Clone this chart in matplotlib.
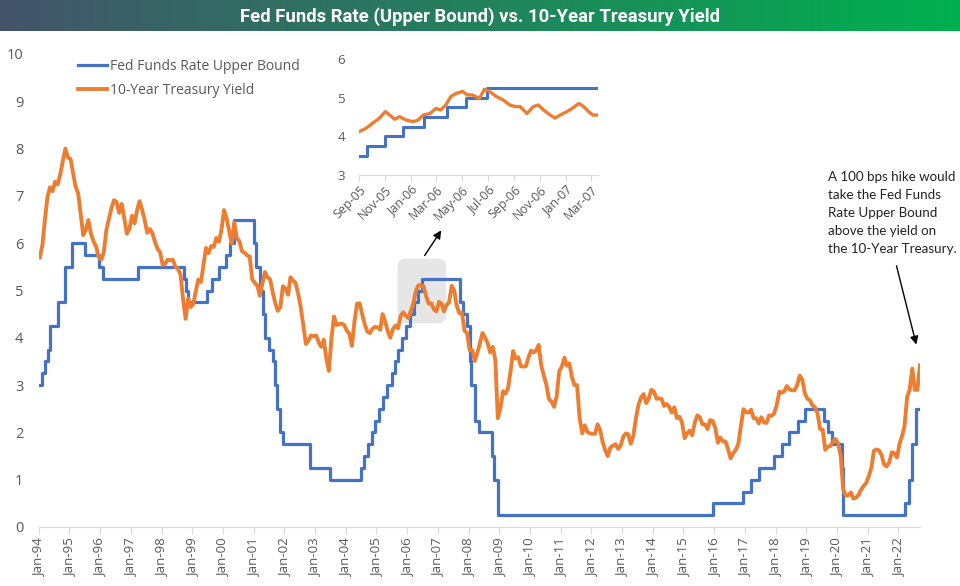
import numpy as np
import pandas as pd
import matplotlib
matplotlib.use('Agg')
import matplotlib.pyplot as plt
import matplotlib.dates as mdates
from matplotlib.patches import FancyBboxPatch

# Fed funds target rate (upper bound) change dates and levels
ff_dates = ['1994-01-01', '1994-02-04', '1994-03-22', '1994-04-18', '1994-05-17', '1994-08-16',
            '1994-11-15', '1995-02-01', '1995-07-06', '1995-12-19', '1996-01-31', '1997-03-25',
            '1998-09-29', '1998-10-15', '1998-11-17', '1999-06-30', '1999-08-24', '1999-11-16',
            '2000-02-02', '2000-03-21', '2000-05-16', '2001-01-03', '2001-01-31', '2001-03-20',
            '2001-04-18', '2001-05-15', '2001-06-27', '2001-08-21', '2001-09-17', '2001-10-02',
            '2001-11-06', '2001-12-11', '2002-11-06', '2003-06-25', '2004-06-30', '2004-08-10',
            '2004-09-21', '2004-11-10', '2004-12-14', '2005-02-02', '2005-03-22', '2005-05-03',
            '2005-06-30', '2005-08-09', '2005-09-20', '2005-11-01', '2005-12-13', '2006-01-31',
            '2006-03-28', '2006-05-10', '2006-06-29', '2007-09-18', '2007-10-31', '2007-12-11',
            '2008-01-22', '2008-01-30', '2008-03-18', '2008-04-30', '2008-10-08', '2008-10-29',
            '2008-12-16', '2015-12-16', '2016-12-14', '2017-03-15', '2017-06-14', '2017-12-13',
            '2018-03-21', '2018-06-13', '2018-09-26', '2018-12-19', '2019-07-31', '2019-09-18',
            '2019-10-30', '2020-03-03', '2020-03-15', '2022-03-16', '2022-05-04', '2022-06-15',
            '2022-07-27', '2022-09-15']
ff_rate = [3.00, 3.25, 3.50, 3.75, 4.25, 4.75,
           5.50, 6.00, 5.75, 5.50, 5.25, 5.50,
           5.25, 5.00, 4.75, 5.00, 5.25, 5.50,
           5.75, 6.00, 6.50, 6.00, 5.50, 5.00,
           4.50, 4.00, 3.75, 3.50, 3.00, 2.50,
           2.00, 1.75, 1.25, 1.00, 1.25, 1.50,
           1.75, 2.00, 2.25, 2.50, 2.75, 3.00,
           3.25, 3.50, 3.75, 4.00, 4.25, 4.50,
           4.75, 5.00, 5.25, 4.75, 4.50, 4.25,
           3.50, 3.00, 2.25, 2.00, 1.50, 1.00,
           0.25, 0.50, 0.75, 1.00, 1.25, 1.50,
           1.75, 2.00, 2.25, 2.50, 2.25, 2.00,
           1.75, 1.25, 0.25, 0.50, 1.00, 1.75,
           2.50, 2.50]

# 10-year treasury yield, monthly, Jan-1994 .. Sep-2022
ty_1994_2022 = [
    5.70, 5.97, 6.48, 6.97, 7.18, 7.10, 7.30, 7.24, 7.46, 7.74, 8.00, 7.81,
    7.78, 7.47, 7.20, 7.06, 6.63, 6.17, 6.28, 6.49, 6.20, 6.04, 5.93, 5.71,
    5.65, 5.81, 6.27, 6.51, 6.74, 6.91, 6.87, 6.64, 6.83, 6.53, 6.20, 6.30,
    6.58, 6.42, 6.69, 6.89, 6.71, 6.49, 6.22, 6.30, 6.21, 6.03, 5.88, 5.81,
    5.54, 5.57, 5.65, 5.64, 5.65, 5.50, 5.46, 5.34, 4.81, 4.40, 4.83, 4.65,
    4.72, 5.00, 5.23, 5.18, 5.54, 5.90, 5.79, 5.94, 5.92, 6.11, 6.03, 6.28,
    6.70, 6.52, 6.26, 5.99, 6.44, 6.10, 6.05, 5.83, 5.80, 5.74, 5.72, 5.24,
    5.16, 5.10, 4.89, 5.14, 5.39, 5.28, 5.24, 4.97, 4.73, 4.57, 4.65, 5.09,
    5.04, 4.91, 5.28, 5.21, 5.16, 4.93, 4.65, 4.26, 3.87, 3.94, 4.05, 4.03,
    4.05, 3.90, 3.81, 3.96, 3.57, 3.30, 3.98, 4.45, 4.27, 4.29, 4.30, 4.27,
    4.15, 4.08, 3.83, 4.35, 4.72, 4.73, 4.50, 4.28, 4.13, 4.10, 4.19, 4.23,
    4.22, 4.17, 4.50, 4.34, 4.14, 4.00, 4.18, 4.26, 4.20, 4.46, 4.54, 4.47,
    4.42, 4.57, 4.72, 4.99, 5.11, 5.11, 5.09, 4.88, 4.72, 4.73, 4.60, 4.56,
    4.76, 4.72, 4.56, 4.69, 4.75, 5.10, 5.00, 4.67, 4.52, 4.53, 4.15, 4.10,
    3.74, 3.74, 3.51, 3.68, 3.88, 4.10, 4.01, 3.89, 3.69, 3.81, 3.53, 2.30,
    2.52, 2.87, 2.82, 2.93, 3.29, 3.72, 3.56, 3.59, 3.40, 3.39, 3.40, 3.59,
    3.73, 3.69, 3.73, 3.85, 3.42, 3.20, 3.01, 2.70, 2.65, 2.54, 2.76, 3.29,
    3.39, 3.58, 3.41, 3.46, 3.17, 3.00, 3.00, 2.30, 1.98, 2.15, 2.01, 1.98,
    1.97, 1.97, 2.17, 2.05, 1.80, 1.62, 1.50, 1.68, 1.72, 1.75, 1.65, 1.72,
    1.91, 1.98, 1.96, 1.76, 1.93, 2.30, 2.58, 2.74, 2.81, 2.62, 2.72, 2.90,
    2.86, 2.71, 2.72, 2.71, 2.56, 2.60, 2.54, 2.42, 2.53, 2.30, 2.33, 2.21,
    1.88, 1.98, 2.04, 1.94, 2.20, 2.36, 2.32, 2.17, 2.17, 2.07, 2.26, 2.24,
    2.09, 1.78, 1.89, 1.81, 1.81, 1.64, 1.45, 1.56, 1.63, 1.76, 2.14, 2.49,
    2.43, 2.42, 2.48, 2.30, 2.30, 2.19, 2.32, 2.21, 2.20, 2.36, 2.35, 2.40,
    2.58, 2.86, 2.84, 2.87, 2.98, 2.91, 2.89, 2.89, 3.00, 3.20, 3.12, 2.83,
    2.71, 2.68, 2.57, 2.53, 2.40, 2.07, 2.06, 1.63, 1.70, 1.71, 1.81, 1.86,
    1.76, 1.50, 0.80, 0.66, 0.67, 0.73, 0.60, 0.62, 0.68, 0.79, 0.87, 0.93,
    1.08, 1.26, 1.61, 1.64, 1.62, 1.52, 1.32, 1.28, 1.37, 1.58, 1.56, 1.47,
    1.76, 1.93, 2.13, 2.75, 2.90, 3.35, 2.90, 2.90, 3.42]

# inset detail: Sep-05 .. Mar-07
inset_dates = ['2005-09-01', '2005-09-18', '2005-10-03', '2005-10-19', '2005-11-02', '2005-11-12',
               '2005-11-24', '2005-12-05', '2005-12-21', '2006-01-06', '2006-01-18', '2006-01-30',
               '2006-02-15', '2006-03-01', '2006-03-12', '2006-03-24', '2006-04-05', '2006-04-17',
               '2006-05-03', '2006-05-14', '2006-05-26', '2006-06-11', '2006-06-23', '2006-07-05',
               '2006-07-21', '2006-08-06', '2006-08-22', '2006-09-03', '2006-09-15', '2006-10-01',
               '2006-10-16', '2006-10-28', '2006-11-09', '2006-11-25', '2006-12-06', '2006-12-18',
               '2007-01-03', '2007-01-15', '2007-01-31', '2007-02-11', '2007-02-23', '2007-03-05',
               '2007-03-17']
inset_yield = [4.12, 4.21, 4.34, 4.47, 4.64, 4.55,
               4.44, 4.51, 4.42, 4.38, 4.42, 4.55,
               4.59, 4.72, 4.68, 4.81, 5.03, 5.11,
               5.16, 5.07, 5.07, 4.98, 5.22, 5.16,
               5.03, 4.94, 4.81, 4.77, 4.77, 4.59,
               4.77, 4.81, 4.68, 4.55, 4.47, 4.55,
               4.64, 4.72, 4.85, 4.77, 4.64, 4.55,
               4.55]

BLUE = '#4472C4'
ORANGE = '#ED7D31'
GREY = '#595959'
AXIS = '#D9D9D9'

plt.rcParams['font.family'] = ['Open Sans', 'DejaVu Sans']

ff_x = pd.to_datetime(ff_dates)
ty_x = pd.date_range('1994-01-01', periods=len(ty_1994_2022), freq='MS') + pd.Timedelta(days=14)
in_x = pd.to_datetime(inset_dates)

fig = plt.figure(figsize=(9.6, 5.86), dpi=100)

# title bar with gradient
tax = fig.add_axes([0, 1 - 31 / 586, 1, 31 / 586])
grad = np.linspace(0, 1, 256).reshape(1, -1)
cmap = matplotlib.colors.LinearSegmentedColormap.from_list('bar', ['#44546A', '#00B050'])
tax.imshow(grad, aspect='auto', cmap=cmap, extent=[0, 1, 0, 1])
tax.axis('off')
tax.text(0.5, 0.47, 'Fed Funds Rate (Upper Bound) vs. 10-Year Treasury Yield', color='white',
         fontsize=13.3, fontweight='bold', ha='center', va='center',
         family=['Roboto', 'DejaVu Sans'])

# main chart
ax = fig.add_axes([38.7 / 960, 1 - 527 / 586, (920 - 38.7) / 960, (527 - 54) / 586])
ax.plot(ff_x, ff_rate, drawstyle='steps-post', color=BLUE, lw=2.3, label='Fed Funds Rate Upper Bound', zorder=3)
ax.plot(ty_x, ty_1994_2022, color=ORANGE, lw=2.8, label='10-Year Treasury Yield', zorder=4)

x0 = pd.Timestamp('1994-01-01')
x1 = pd.Timestamp('2022-09-15')
ax.set_xlim(x0, x1)
ax.set_ylim(0, 10)
ax.set_yticks(range(0, 11))
ax.xaxis.set_major_locator(mdates.YearLocator(1, month=1, day=1))
ax.xaxis.set_major_formatter(mdates.DateFormatter('%b-%y'))
for s in ['top', 'right', 'left']:
    ax.spines[s].set_visible(False)
ax.spines['bottom'].set_color(AXIS)
ax.tick_params(axis='x', colors=AXIS, length=5, labelcolor=GREY, labelsize=9.5, labelrotation=90, pad=3)
ax.tick_params(axis='y', length=0, labelcolor=GREY, labelsize=10.5, pad=11)

# highlighted period
px_w = 881.3 / (x1 - x0).days
px_h = 47.3
box = FancyBboxPatch((mdates.date2num(pd.Timestamp('2005-09-10')), 4.31),
                     mdates.date2num(pd.Timestamp('2007-04-10')) - mdates.date2num(pd.Timestamp('2005-09-10')),
                     1.36, boxstyle='round,pad=0,rounding_size=95',
                     mutation_aspect=px_w / px_h, facecolor='#E6E6E6', edgecolor='none', zorder=1)
ax.add_patch(box)

ax.annotate('', xy=(pd.Timestamp('2007-03-01'), 6.32), xytext=(pd.Timestamp('2006-07-10'), 5.69),
            arrowprops=dict(arrowstyle='-|>', color='black', lw=1, mutation_scale=12))
ax.annotate('', xy=(pd.Timestamp('2022-08-10'), 3.8), xytext=(pd.Timestamp('2021-12-01'), 5.58),
            arrowprops=dict(arrowstyle='-|>', color='black', lw=1, mutation_scale=12))

leg = ax.legend(loc='upper left', bbox_to_anchor=(78 / 960, 1 - 59 / 586), bbox_transform=fig.transFigure,
                frameon=False, fontsize=10, handlelength=2.1, handletextpad=0.2, labelspacing=0.62,
                borderpad=0, borderaxespad=0)
for t in leg.get_texts():
    t.set_color(GREY)

fig.text(828 / 960, 1 - 171 / 586,
         'A 100 bps hike would\ntake the Fed Funds\nRate Upper Bound\nabove the yield on\nthe 10-Year Treasury.',
         ha='left', va='top', fontsize=9.6, color='#222222', linespacing=1.6,
         family=['Lato', 'DejaVu Sans'])

# inset chart
iax = fig.add_axes([359 / 960, 1 - 175 / 586, (598 - 359) / 960, (175 - 59) / 586])
iax.plot(ff_x, ff_rate, drawstyle='steps-post', color=BLUE, lw=2.2, zorder=3)
iax.plot(in_x, inset_yield, color=ORANGE, lw=2.4, zorder=4)
iax.set_xlim(pd.Timestamp('2005-09-01'), pd.Timestamp('2007-03-17'))
iax.set_ylim(3, 6)
iax.set_yticks([3, 4, 5, 6])
iax.xaxis.set_major_locator(mdates.MonthLocator(bymonth=[1, 3, 5, 7, 9, 11]))
iax.xaxis.set_major_formatter(mdates.DateFormatter('%b-%y'))
for s in ['top', 'right', 'left']:
    iax.spines[s].set_visible(False)
iax.spines['bottom'].set_color(AXIS)
iax.tick_params(axis='x', colors=AXIS, length=4, labelcolor=GREY, labelsize=9, pad=2)
iax.tick_params(axis='y', length=0, labelcolor=GREY, labelsize=9.5, pad=10)
for lbl in iax.get_xticklabels():
    lbl.set_rotation(45)
    lbl.set_ha('right')
    lbl.set_rotation_mode('anchor')

fig.savefig('out.png', dpi=100)
